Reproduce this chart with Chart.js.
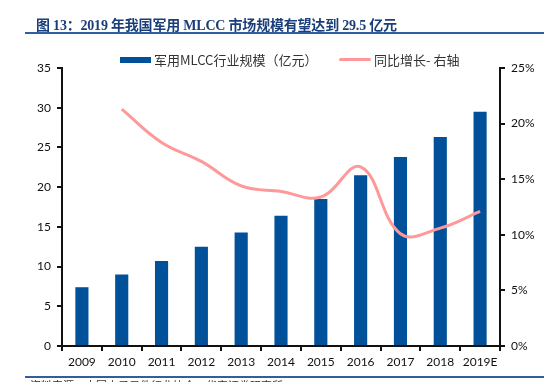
<!DOCTYPE html>
<html><head><meta charset="utf-8">
<script src="https://cdn.jsdelivr.net/npm/chart.js@4/dist/chart.umd.min.js"></script>
<style>
html,body{margin:0;padding:0;background:#fff;}
#wrap{position:relative;width:544px;height:382px;overflow:hidden;}
#c{position:absolute;left:0;top:0;}
#title{position:absolute;left:36px;top:14px;font:bold 14px "Liberation Serif","Noto Sans CJK SC",serif;color:#1a3e7a;white-space:nowrap;letter-spacing:-0.2px;}
#tl{position:absolute;left:25px;top:32px;width:519px;height:2px;background:#2f5f9e;}
#bl{position:absolute;left:25px;top:376px;width:519px;height:2px;background:#2f5f9e;}
#src{position:absolute;left:30px;top:377px;font:11px "Noto Sans CJK SC",sans-serif;color:#333;white-space:nowrap;}
.lg{position:absolute;font:13px "Noto Sans CJK SC","Lato",sans-serif;color:#333;white-space:nowrap;}
</style></head>
<body><div id="wrap">
<canvas id="c" width="544" height="382"></canvas>
<div id="title">图 13：2019 年我国军用 MLCC 市场规模有望达到 29.5 亿元</div>
<div id="tl"></div>
<div style="position:absolute;left:120px;top:57px;width:31px;height:6px;background:#00509a"></div>
<div class="lg" style="left:154px;top:50px">军用MLCC行业规模（亿元）</div>
<div style="position:absolute;left:339px;top:58px;width:32px;height:3px;border-radius:2px;background:#ff9999"></div>
<div class="lg" style="left:374px;top:50px">同比增长- 右轴</div>
<div id="bl"></div>
<div id="src">资料来源：中国电子元件行业协会，华安证券研究所</div>
</div>
<script>
const categories = ['2009','2010','2011','2012','2013','2014','2015','2016','2017','2018','2019E'];
const marketSize = [7.4, 9.0, 10.7, 12.5, 14.3, 16.4, 18.5, 21.5, 23.8, 26.3, 29.5];
const growth = [null, 21.3, 18.3, 16.6, 14.4, 13.9, 13.4, 16.1, 10.1, 10.6, 12.1];
const leftTicks = [0,5,10,15,20,25,30,35];
const rightTicks = [0,5,10,15,20,25];

const tickFont = {family:'Lato, "Open Sans", sans-serif', size:12};
new Chart(document.getElementById('c'), {
  data: {
    labels: categories,
    datasets: [
      {type:'line', label:'同比增长- 右轴', data: growth, yAxisID:'y2', borderColor:'#ff9999', borderWidth:3,
       pointRadius:0, tension:0.4, fill:false, order:0, spanGaps:true},
      {type:'bar', label:'军用MLCC行业规模（亿元）', data: marketSize, yAxisID:'y', backgroundColor:'#00509a',
       barPercentage:0.33, categoryPercentage:1, order:1}
    ]
  },
  options: {
    responsive:false, animation:false, devicePixelRatio:1,
    layout:{padding:{top:68,left:0,right:0,bottom:0}},
    plugins:{legend:{display:false}, tooltip:{enabled:false}},
    scales:{
      x:{offset:true,
         grid:{offset:true, drawOnChartArea:false, drawTicks:true, tickLength:5, color:'#111', lineWidth:2},
         border:{color:'#111', width:2},
         ticks:{font:tickFont, color:'#111', padding:4, maxRotation:0, autoSkip:false},
         afterFit:(s)=>{s.height=36;}},
      y:{position:'left', min:0, max:35,
         afterBuildTicks:(s)=>{s.ticks=leftTicks.map(v=>({value:v}));},
         grid:{drawOnChartArea:false, tickLength:5, color:'#111', lineWidth:2},
         border:{color:'#111', width:2},
         ticks:{font:tickFont, color:'#111', padding:6},
         afterFit:(s)=>{s.width=62;}},
      y2:{position:'right', min:0, max:25,
         afterBuildTicks:(s)=>{s.ticks=rightTicks.map(v=>({value:v}));},
         grid:{drawOnChartArea:false, tickLength:5, color:'#111', lineWidth:2},
         border:{color:'#111', width:2},
         ticks:{font:tickFont, color:'#111', padding:6, callback:(v)=>v+'%'},
         afterFit:(s)=>{s.width=44;}}
    }
  }
});
</script>
</body></html>
